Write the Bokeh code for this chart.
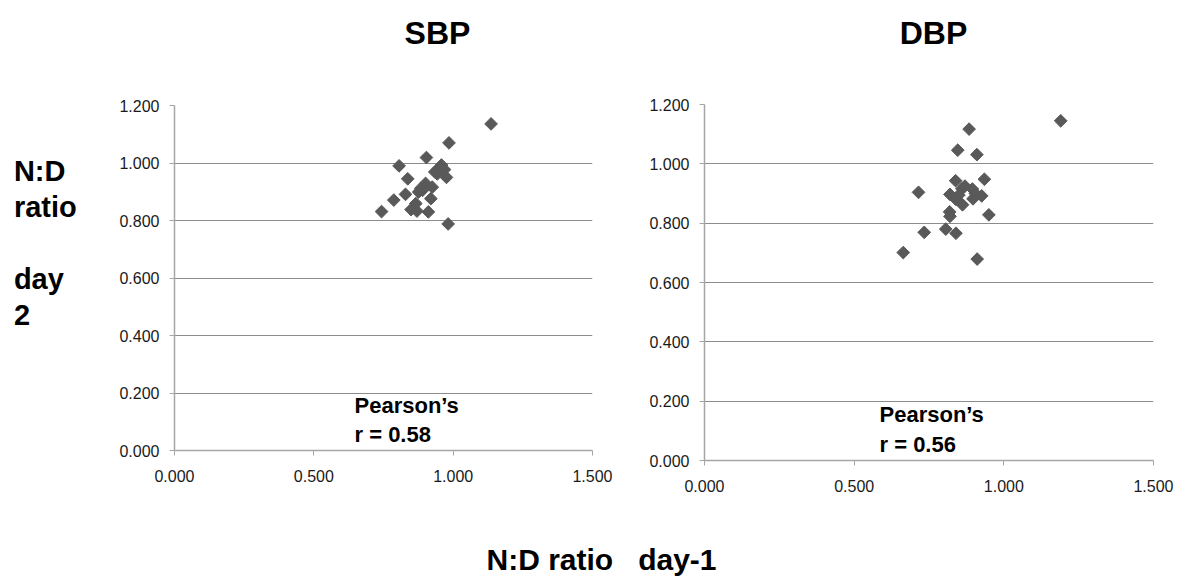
import math
from bokeh.plotting import figure
from bokeh.layouts import row, column
from bokeh.models import Range1d, FixedTicker, PrintfTickFormatter, Label
from bokeh.embed import file_html
from bokeh.resources import INLINE

# ---------------- data ----------------
sbp_x = [1.136, 0.985, 0.904, 0.806, 0.958, 0.837, 0.934, 0.969, 0.976, 0.943,
         0.829, 0.787, 0.743, 0.884, 0.901, 0.925, 0.876, 0.920, 0.866, 0.849,
         0.870, 0.911, 0.982, 0.952, 0.890]
sbp_y = [1.136, 1.070, 1.019, 0.990, 0.993, 0.945, 0.969, 0.977, 0.950, 0.962,
         0.891, 0.871, 0.831, 0.912, 0.929, 0.916, 0.899, 0.876, 0.859, 0.838,
         0.833, 0.830, 0.788, 0.982, 0.905]

dbp_x = [1.190, 0.884, 0.846, 0.910, 0.935, 0.715, 0.839, 0.820, 0.860, 0.895,
         0.926, 0.897, 0.862, 0.840, 0.819, 0.820, 0.950, 0.734, 0.806, 0.840,
         0.664, 0.911, 0.850, 0.905, 0.870]
dbp_y = [1.145, 1.117, 1.046, 1.031, 0.948, 0.904, 0.943, 0.897, 0.916, 0.915,
         0.892, 0.882, 0.862, 0.880, 0.838, 0.823, 0.828, 0.769, 0.780, 0.766,
         0.701, 0.679, 0.895, 0.900, 0.925]

x_ticks = [0.0, 0.5, 1.0, 1.5]
y_ticks = [0.0, 0.2, 0.4, 0.6, 0.8, 1.0, 1.2]

titles = ["SBP", "DBP"]
pearson_head = "Pearson\u2019s"
pearson = ["r = 0.58", "r = 0.56"]
y_label_lines = ["N:D", "ratio", "day", "2"]
x_label = "N:D ratio\u00a0\u00a0\u00a0day-1"

FONT = "Liberation Sans"
TOTAL_W, TOTAL_H = 1178, 578
TOP_H, MID_H = 88, 440
BOT_H = TOTAL_H - TOP_H - MID_H
BASE_FIX = 0.35   # bokeh's alphabetic anchor sits this many em below the glyph baseline

# frame boxes in page pixels (left, top, right, bottom)
F1 = (174, 105, 592, 450)
F2 = (704, 104, 1153, 460)


def text_fig(w, h, bt=0, bb=0):
    """Figure without axes; frame data units = pixels (y up), frame = canvas minus bt/bb."""
    p = figure(width=w, height=h, output_backend="svg", toolbar_location=None,
               x_range=Range1d(0, w), y_range=Range1d(0, h - bt - bb),
               x_axis_location=None, y_axis_location=None,
               min_border_left=0, min_border_right=0,
               min_border_top=bt, min_border_bottom=bb)
    p.outline_line_color = None
    p.xgrid.grid_line_color = None
    p.ygrid.grid_line_color = None
    return p


def put(p, x, y, txt, size, align="left", units="data"):
    p.add_layout(Label(x=x, y=y + BASE_FIX * size, x_units=units, y_units=units,
                       text=txt, text_font=FONT, text_font_style="bold",
                       text_font_size=f"{size}px", text_color="black",
                       text_align=align, text_baseline="alphabetic"))


def chart(w, bl, br, bt, bb):
    p = figure(width=w, height=MID_H, output_backend="svg", toolbar_location=None,
               x_range=Range1d(0, 1.5), y_range=Range1d(0, 1.2),
               min_border_left=bl, min_border_right=br,
               min_border_top=bt, min_border_bottom=bb)
    p.outline_line_color = None
    p.xgrid.grid_line_color = None
    p.ygrid.grid_line_color = "#8c8c8c"
    p.ygrid.grid_line_width = 1
    for ax, ticks in ((p.xaxis[0], x_ticks), (p.yaxis[0], y_ticks)):
        ax.ticker = FixedTicker(ticks=ticks)
        ax.formatter = PrintfTickFormatter(format="%.3f")
        ax.axis_line_color = "#a6a6a6"
        ax.axis_line_width = 1.5
        ax.major_tick_line_color = "#a6a6a6"
        ax.major_tick_in = 0
        ax.major_tick_out = 5
        ax.minor_tick_line_color = None
        ax.major_label_text_font = FONT
        ax.major_label_text_font_size = "16px"
        ax.major_label_text_color = "#1a1a1a"
    p.xaxis[0].major_label_standoff = 14
    p.yaxis[0].major_label_standoff = 10
    return p


# ---- top strip: panel titles ----
top = text_fig(TOTAL_W, TOP_H)
put(top, 437, TOP_H - 43.5, titles[0], 32, "center")
put(top, 933, TOP_H - 43.5, titles[1], 32, "center")

# ---- left strip: y-axis title (frame matches the SBP frame vertically) ----
YL_W = 108
ylab = text_fig(YL_W, MID_H, F1[1] - TOP_H, TOP_H + MID_H - F1[3])
for txt, base in zip(y_label_lines, [180.6, 216.7, 289, 325]):
    put(ylab, 13.4, F1[3] - base, txt, 29)

# ---- SBP chart: canvas x 108..625 ----
x0_1 = YL_W
W1 = 625 - x0_1
p1 = chart(W1, F1[0] - x0_1, x0_1 + W1 - F1[2], F1[1] - TOP_H, TOP_H + MID_H - F1[3])
p1.scatter(sbp_x, sbp_y, marker="square", angle=math.pi / 4, size=9,
           fill_color="#595959", line_color="#595959")
put(p1, 354 - F1[0], F1[3] - 413, pearson_head, 22, units="screen")
put(p1, 354 - F1[0], F1[3] - 441.6, pearson[0], 22, units="screen")

# ---- DBP chart: canvas x 625..1178 ----
x0_2 = 625
W2 = TOTAL_W - x0_2
p2 = chart(W2, F2[0] - x0_2, TOTAL_W - F2[2], F2[1] - TOP_H, TOP_H + MID_H - F2[3])
p2.scatter(dbp_x, dbp_y, marker="square", angle=math.pi / 4, size=9,
           fill_color="#595959", line_color="#595959")
put(p2, 879 - F2[0], F2[3] - 422, pearson_head, 22, units="screen")
put(p2, 879 - F2[0], F2[3] - 451.5, pearson[1], 22, units="screen")

# ---- bottom strip: x-axis title ----
bot = text_fig(TOTAL_W, BOT_H)
put(bot, 486, TOTAL_H - 569.5, x_label, 30)

layout = column(top, row(column(ylab), column(p1), column(p2)), bot)
open("out.html", "w").write(file_html(layout, INLINE))
